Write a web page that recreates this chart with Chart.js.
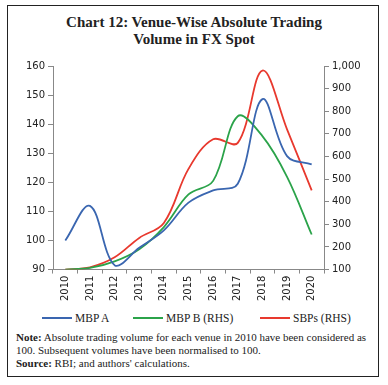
<!DOCTYPE html>
<html><head><meta charset="utf-8">
<script src="https://cdn.jsdelivr.net/npm/chart.js@4"></script>
<style>
html,body{margin:0;padding:0;background:#fff;}
#wrap{position:relative;width:388px;height:385px;}
#frame{position:absolute;left:7px;top:5px;width:372px;height:372px;border:1px solid #222;box-sizing:border-box;}
#title{position:absolute;left:0;top:14px;width:388px;text-align:center;font-family:"Liberation Serif",serif;font-weight:bold;font-size:15px;line-height:17px;color:#222;}
#cv{position:absolute;left:0;top:55px;}
#legend{position:absolute;left:0;top:310px;width:388px;height:16px;font-family:"Liberation Serif",serif;font-size:11.5px;color:#222;}
.li{position:absolute;top:0;white-space:nowrap;line-height:16px;}
.li i{display:inline-block;width:30px;height:2px;vertical-align:middle;margin-right:3px;position:relative;top:-1px;}
#note{position:absolute;left:16px;top:331px;width:358px;font-family:"Liberation Serif",serif;font-size:11px;line-height:13px;color:#222;}
</style></head><body>
<div id="wrap">
<div id="frame"></div>
<div id="title">Chart 12: Venue-Wise Absolute Trading<br>Volume in FX Spot</div>
<canvas id="cv" width="388" height="248"></canvas>
<div id="legend"></div>
<div id="note"><b>Note:</b> Absolute trading volume for each venue in 2010 have been considered as 100. Subsequent volumes have been normalised to 100.<br><b>Source:</b> RBI; and authors' calculations.</div>
</div>
<script>
const years = ["2010","2011","2012","2013","2014","2015","2016","2017","2018","2019","2020"];
const mbpA = [100, 111.9, 91.5, 97.5, 103.5, 113, 117.2, 119.5, 148.6, 129, 126.2];
const mbpB = [100, 107, 136, 190, 288, 432, 492, 778, 690, 510, 255];
const sbps = [100, 110, 154, 240, 306, 545, 676, 660, 980, 720, 450];
const seriesNames = ["MBP A", "MBP B (RHS)", "SBPs (RHS)"];
const seriesColors = ["#3a66b0", "#2ba34a", "#e8392e"];
const leftTicks = [90,100,110,120,130,140,150,160];
const rightTicks = [100,200,300,400,500,600,700,800,900,1000];

// HTML legend
const legendX = [42, 133, 260];
const lg = document.getElementById('legend');
seriesNames.forEach((n,i)=>{
  const d = document.createElement('div');
  d.className = 'li';
  d.style.left = legendX[i] + 'px';
  const sw = document.createElement('i');
  sw.style.background = seriesColors[i];
  d.appendChild(sw);
  d.appendChild(document.createTextNode(n));
  lg.appendChild(d);
});

const tickFont = {family:"DejaVu Sans", size:10};
const mk = (i, data, axis) => ({label:seriesNames[i], data:data, yAxisID:axis, borderColor:seriesColors[i], backgroundColor:seriesColors[i], borderWidth:1.8, pointRadius:0, tension:0.36});
new Chart(document.getElementById('cv'), {
  type:'line',
  data:{labels:years, datasets:[mk(0,mbpA,'y'), mk(1,mbpB,'y1'), mk(2,sbps,'y1')]},
  options:{
    responsive:false, animation:false,
    layout:{padding:{top:11,left:0,right:0,bottom:0}},
    plugins:{legend:{display:false}, tooltip:{enabled:false}},
    scales:{
      x:{offset:true, grid:{offset:true, drawOnChartArea:false, drawTicks:true, tickLength:4, color:'#888'}, border:{color:'#888'},
         ticks:{minRotation:90, maxRotation:90, color:'#222', font:tickFont, padding:2}},
      y:{position:'left', min:90, max:160, grid:{drawOnChartArea:false, tickLength:5, color:'#888'}, border:{color:'#888'},
         afterBuildTicks:s=>{s.ticks=leftTicks.map(v=>({value:v}));},
         afterFit:s=>{s.width=53;},
         ticks:{color:'#222', font:tickFont, padding:3}},
      y1:{position:'right', min:100, max:1000, grid:{drawOnChartArea:false, tickLength:5, color:'#888'}, border:{color:'#888'},
         afterBuildTicks:s=>{s.ticks=rightTicks.map(v=>({value:v}));},
         afterFit:s=>{s.width=64;},
         ticks:{color:'#222', font:tickFont, padding:3, callback:v=>v.toLocaleString('en-US')}}
    }
  }
});
</script>
</body></html>
